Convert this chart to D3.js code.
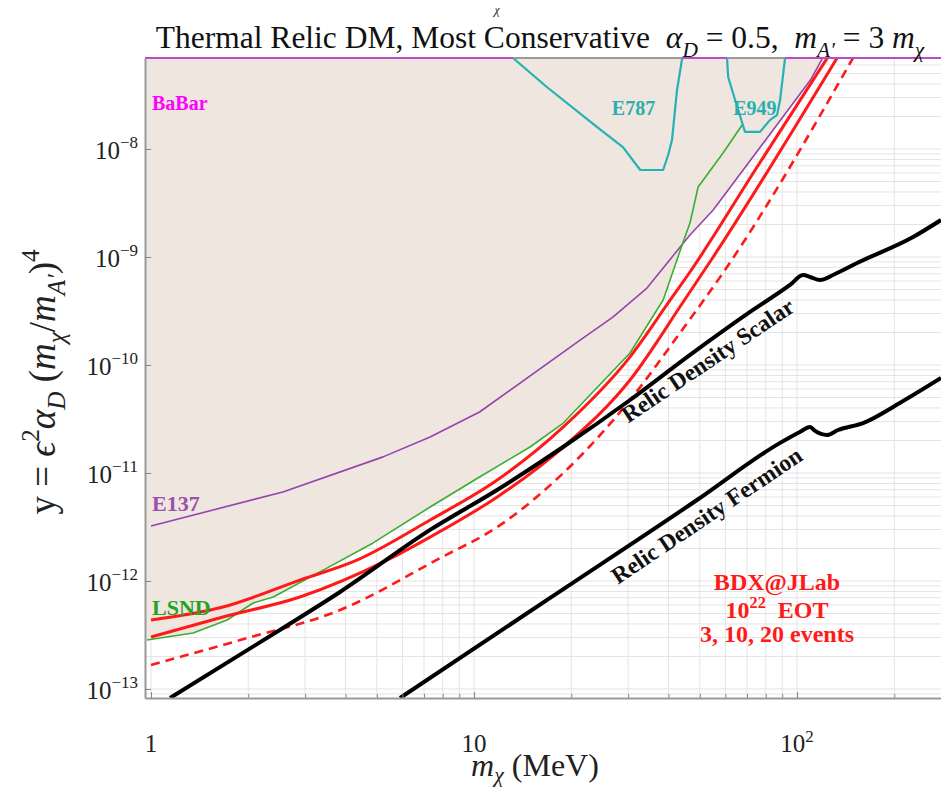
<!DOCTYPE html>
<html>
<head>
<meta charset="utf-8">
<script src="https://cdn.jsdelivr.net/npm/d3@7"></script>
<style>
  body { margin: 0; background: #fff; }
  svg text { font-family: "Liberation Serif", "Times New Roman", serif; white-space: pre; }
</style>
</head>
<body>
<div id="chart"></div>
<script>
// axis ranges (MeV, y)
const massDomain = [0.958, 279];
const yDomain = [8.25e-14, 6.96e-8];
const xTickValues = [1, 10, 100];
const xTickExp = [0, 1, 2];
const yTickExp = [-8, -9, -10, -11, -12, -13];

// existing limits [m_chi (MeV), y]
const lsnd = [[0.972, 2.84e-13], [1.35, 3.30e-13], [1.72, 4.35e-13], [2.07, 6.25e-13], [2.39, 7.11e-13],
  [3.41, 1.26e-12], [4.87, 2.25e-12], [7.31, 4.84e-12], [10.4, 9.18e-12], [14.9, 1.74e-11],
  [18.9, 2.90e-11], [30.4, 1.29e-10], [38.5, 4.0e-10], [44.4, 1.38e-9], [46.6, 2.06e-9],
  [49.4, 4.45e-9], [59.0, 9.18e-9], [67.6, 1.67e-8]];
const e137 = [[1.0, 3.23e-12], [2.56, 6.67e-12], [5.23, 1.41e-11], [7.31, 2.15e-11], [10.4, 3.67e-11],
  [21.3, 1.70e-10], [26.9, 2.78e-10], [34.3, 5.16e-10], [46.6, 1.60e-9], [55.0, 2.72e-9],
  [110, 4.35e-8], [120, 6.96e-8]];
const e787 = [[13.2, 6.96e-8], [16.8, 3.75e-8], [24.0, 1.60e-8], [28.9, 1.04e-8], [32.7, 6.39e-9],
  [38.5, 6.39e-9], [39.9, 8.80e-9], [41.0, 1.21e-8], [42.5, 3.52e-8], [44.1, 6.96e-8]];
const e949 = [[60.7, 6.96e-8], [61.2, 4.64e-8], [64.3, 2.84e-8], [69.0, 1.44e-8], [76.8, 1.44e-8],
  [82.5, 1.86e-8], [86.7, 2.06e-8], [88.6, 2.84e-8], [91.8, 6.96e-8]];
const babarRanges = [[0.958, 13.2], [44.1, 60.7], [91.8, 279]];

// BDX@JLab reach, 10^22 EOT
const bdxUpper = [[1.0, 4.35e-13], [1.67, 5.74e-13], [2.89, 1.02e-12], [4.34, 1.56e-12], [7.31, 3.67e-12],
  [11.8, 8.61e-12], [18.9, 2.67e-11], [30.4, 1.19e-10], [40.5, 4.0e-10], [46.6, 7.26e-10],
  [75.2, 6.81e-9], [124, 6.96e-8]];
const bdxMiddle = [[1.0, 3.03e-13], [1.67, 4.64e-13], [2.89, 7.11e-13], [5.38, 1.56e-12], [7.31, 2.55e-12],
  [11.8, 6.0e-12], [18.9, 1.74e-11], [30.4, 7.26e-11], [44.4, 3.83e-10], [55.0, 1.0e-9],
  [133, 6.96e-8]];
const bdxLower = [[1.0, 1.67e-13], [1.89, 2.84e-13], [3.85, 5.39e-13], [7.85, 1.63e-12], [11.8, 3.16e-12],
  [18.9, 1.0e-11], [30.4, 4.74e-11], [43.4, 1.98e-10], [60.7, 8.08e-10], [149, 6.96e-8]];

// relic density targets
const relicScalar = [[1.145, 8.25e-14], [2.563, 3.67e-13], [3.847, 7.91e-13], [7.307, 2.97e-12],
  [11.78, 6.96e-12], [18.86, 1.74e-11], [30.41, 4.74e-11], [46.64, 1.24e-10], [71.53, 3.10e-10],
  [95.1, 5.51e-10], [104.4, 6.81e-10], [109.7, 6.53e-10], [117.8, 6.12e-10], [131.1, 6.96e-10],
  [153.4, 8.80e-10], [228.6, 1.53e-9], [279, 2.20e-9]];
const relicFermion = [[5.90, 8.25e-14], [17.2, 6.97e-13], [49.0, 5.62e-12], [88.6, 1.90e-11],
  [102, 2.40e-11], [109.7, 2.67e-11], [113.7, 2.45e-11], [123.8, 2.25e-11], [133.9, 2.50e-11],
  [160.1, 2.90e-11], [208, 4.45e-11], [279, 7.58e-11]];

const bdxText = ['BDX@JLab', '10|22|  EOT', '3, 10, 20 events'];

const width = 941;
const height = 791;
const plot = { left: 145, right: 941, top: 58, bottom: 698 };

let svg = d3.select('#chart').append('svg')
  .attr('width', width)
  .attr('height', height)
  .attr('font-family', '"Liberation Serif", "Times New Roman", serif');

let x = d3.scaleLog().domain(massDomain).range([plot.left, plot.right]);
let y = d3.scaleLog().domain(yDomain).range([plot.bottom, plot.top]);

svg.append('defs').append('clipPath').attr('id', 'plotclip')
  .append('rect')
  .attr('x', plot.left).attr('y', plot.top)
  .attr('width', plot.right - plot.left).attr('height', plot.bottom - plot.top);

// rich text: parts are [text, kind] with kind n | i | sub | subi | sup
function rich(textSel, parts, size, subShift) {
  let shift = 0;
  let down = subShift === undefined ? 0.28 : subShift;
  parts.forEach(([t, k]) => {
    let target = k.startsWith('sub') ? size * down : (k === 'sup' ? -size * 0.42 : 0);
    let small = k.startsWith('sub') || k === 'sup';
    textSel.append('tspan')
      .attr('dy', target - shift)
      .attr('font-size', small ? size * 0.68 : size)
      .attr('font-style', (k === 'i' || k === 'subi') ? 'italic' : 'normal')
      .text(t);
    shift = target;
  });
}

// grid
let gridX = [];
let gridY = [];
for (let n = 0; n <= 2; n++) for (let k = 1; k <= 9; k++) {
  let v = k * Math.pow(10, n);
  if (v >= massDomain[0] && v <= massDomain[1]) gridX.push(v);
}
for (let n = -14; n <= -8; n++) for (let k = 1; k <= 9; k++) {
  let v = k * Math.pow(10, n);
  if (v >= yDomain[0] && v <= yDomain[1]) gridY.push(v);
}

let gridG = svg.append('g').attr('clip-path', 'url(#plotclip)');
gridG.selectAll('line.gx').data(gridX).enter().append('line')
  .attr('x1', d => x(d)).attr('x2', d => x(d))
  .attr('y1', plot.top).attr('y2', plot.bottom)
  .style('stroke', '#e4e4e4').style('stroke-width', 1);
gridG.selectAll('line.gy').data(gridY).enter().append('line')
  .attr('y1', d => y(d)).attr('y2', d => y(d))
  .attr('x1', plot.left).attr('x2', plot.right)
  .style('stroke', '#e4e4e4').style('stroke-width', 1);

// excluded region: above the lower envelope of LSND and E137
function logInterp(series, m) {
  if (m < series[0][0]) return series[0][1];
  if (m > series[series.length - 1][0]) return null;
  for (let i = 1; i < series.length; i++) {
    if (m <= series[i][0]) {
      let [m0, y0] = series[i - 1], [m1, y1] = series[i];
      let t = (Math.log(m) - Math.log(m0)) / (Math.log(m1) - Math.log(m0));
      return Math.exp(Math.log(y0) + t * (Math.log(y1) - Math.log(y0)));
    }
  }
  return null;
}
let envMasses = d3.range(0, 601).map(i => massDomain[0] * Math.pow(e137[e137.length - 1][0] / massDomain[0], i / 600))
  .concat(lsnd.map(d => d[0]), e137.map(d => d[0]))
  .sort((a, b) => a - b);
let envelope = envMasses.map(m => {
  let vals = [logInterp(lsnd, m), logInterp(e137, m)].filter(v => v !== null);
  return [m, Math.min(yDomain[1], ...vals)];
});

let layers = svg.append('g').attr('clip-path', 'url(#plotclip)');
layers.append('path')
  .datum(envelope)
  .attr('d', d3.area().x(d => x(d[0])).y0(y(yDomain[1])).y1(d => y(d[1])))
  .style('fill', '#eee6df')
  .style('stroke', 'none');

let lineLin = d3.line().x(d => x(d[0])).y(d => y(d[1]));
let lineSmooth = d3.line().x(d => x(d[0])).y(d => y(d[1])).curve(d3.curveMonotoneX);

[
  { data: e137, stroke: '#9544ad', width: 1.6, gen: lineLin },
  { data: lsnd, stroke: '#3aad32', width: 1.6, gen: lineLin },
  { data: e787, stroke: '#25b2b4', width: 2.2, gen: lineLin },
  { data: e949, stroke: '#25b2b4', width: 2.2, gen: lineLin },
  { data: bdxUpper, stroke: '#ff1a1a', width: 3, gen: lineSmooth },
  { data: bdxMiddle, stroke: '#ff1a1a', width: 3, gen: lineSmooth },
  { data: bdxLower, stroke: '#ff1a1a', width: 2.6, gen: lineSmooth, dash: '9,6' },
  { data: relicScalar, stroke: '#000', width: 4, gen: lineSmooth },
  { data: relicFermion, stroke: '#000', width: 4, gen: lineSmooth }
].forEach(s => {
  layers.append('path')
    .datum(s.data)
    .attr('d', s.gen)
    .style('fill', 'none')
    .style('stroke', s.stroke)
    .style('stroke-width', s.width)
    .style('stroke-dasharray', s.dash || null)
    .style('stroke-linejoin', 'round');
});

// frame top + BaBar
svg.append('line')
  .attr('x1', plot.left).attr('x2', plot.right)
  .attr('y1', plot.top).attr('y2', plot.top)
  .style('stroke', '#9a9a9a').style('stroke-width', 2);
svg.selectAll('line.babar').data(babarRanges).enter().append('line')
  .attr('x1', d => x(d[0])).attr('x2', d => x(d[1]))
  .attr('y1', plot.top).attr('y2', plot.top)
  .style('stroke', '#b84cc6').style('stroke-width', 2);

// axes
let minorX = gridX.filter(v => xTickValues.indexOf(v) < 0);
svg.append('g')
  .attr('transform', `translate(0,${plot.bottom})`)
  .call(d3.axisBottom(x).tickValues(minorX).tickSize(-4).tickFormat(''))
  .call(g => g.select('.domain').remove())
  .call(g => g.selectAll('line').style('stroke', '#888'));
svg.append('g')
  .attr('transform', `translate(0,${plot.bottom})`)
  .call(d3.axisBottom(x).tickValues(xTickValues).tickSize(-6).tickSizeOuter(0).tickFormat(''))
  .call(g => g.select('.domain').style('stroke', '#999').style('stroke-width', 2))
  .call(g => g.selectAll('line').style('stroke', '#888'));
svg.append('g')
  .attr('transform', `translate(${plot.left},0)`)
  .call(d3.axisLeft(y).tickValues(yTickExp.map(e => Math.pow(10, e))).tickSize(-6).tickSizeOuter(0).tickFormat(''))
  .call(g => g.select('.domain').style('stroke', '#999').style('stroke-width', 2))
  .call(g => g.selectAll('line').style('stroke', '#888'));

// tick labels
xTickValues.forEach((v, i) => {
  let t = svg.append('text')
    .attr('x', x(v))
    .attr('y', 752)
    .attr('text-anchor', 'middle')
    .style('fill', '#222');
  if (xTickExp[i] === 0) rich(t, [['1', 'n']], 25);
  else if (xTickExp[i] === 1) rich(t, [['10', 'n']], 25);
  else rich(t, [['10', 'n'], [String(xTickExp[i]), 'sup']], 25);
});
yTickExp.forEach(e => {
  let t = svg.append('text')
    .attr('x', 138)
    .attr('y', y(Math.pow(10, e)) + 10)
    .attr('text-anchor', 'end')
    .style('fill', '#222');
  rich(t, [['10', 'n'], ['\u2212' + Math.abs(e), 'sup']], 25);
});

// title and axis labels
let title = svg.append('text')
  .attr('x', 540).attr('y', 48)
  .attr('text-anchor', 'middle')
  .style('fill', '#111');
rich(title, [['Thermal Relic DM, Most Conservative  ', 'n'], ['\u03b1', 'i'], ['D', 'subi'],
  [' = 0.5,  ', 'n'], ['m', 'i'], ['A\u2032', 'subi'], [' = 3 ', 'n'], ['m', 'i'], ['\u03c7', 'subi']], 31.5);

svg.append('text').attr('x', 497).attr('y', 14).attr('text-anchor', 'middle')
  .attr('font-size', 14).attr('font-style', 'italic').style('fill', '#333')
  .text('\u03c7');
svg.append('rect').attr('x', 480).attr('y', 0).attr('width', 40).attr('height', 8).style('fill', '#fff');

let xLabel = svg.append('text')
  .attr('x', 535).attr('y', 776)
  .attr('text-anchor', 'middle')
  .style('fill', '#222');
rich(xLabel, [['m', 'i'], ['\u03c7', 'subi'], [' (MeV)', 'n']], 32, 0.2);

let yLabel = svg.append('text')
  .attr('transform', 'translate(55,382) rotate(-90)')
  .attr('text-anchor', 'middle')
  .style('fill', '#222');
rich(yLabel, [['y = ', 'n'], ['\u03f5', 'i'], ['2', 'sup'], ['\u03b1', 'i'], ['D', 'subi'], [' (', 'n'],
  ['m', 'i'], ['\u03c7', 'subi'], ['/', 'n'], ['m', 'i'], ['A\u2032', 'subi'], [')', 'n'], ['4', 'sup']], 37);

// curve labels
[
  { text: 'BaBar', m: 1.007, v: 2.30e-8, fill: '#ff00ff', size: 20 },
  { text: 'E787', m: 26.7, v: 2.07e-8, fill: '#2aafb0', size: 20 },
  { text: 'E949', m: 63.4, v: 2.07e-8, fill: '#2aafb0', size: 20 },
  { text: 'E137', m: 1.007, v: 4.45e-12, fill: '#9b4fae', size: 22 },
  { text: 'LSND', m: 1.007, v: 4.84e-13, fill: '#24a324', size: 22 }
].forEach(l => {
  svg.append('text')
    .attr('x', x(l.m)).attr('y', y(l.v))
    .attr('font-size', l.size)
    .attr('font-weight', 'bold')
    .style('fill', l.fill)
    .text(l.text);
});

[
  { text: 'Relic Density Scalar', m: 54.6, v: 9.58e-11 },
  { text: 'Relic Density Fermion', m: 54.2, v: 3.52e-12 }
].forEach(l => {
  svg.append('text')
    .attr('transform', `translate(${x(l.m)},${y(l.v)}) rotate(-34)`)
    .attr('text-anchor', 'middle')
    .attr('font-size', 23.5)
    .attr('font-weight', 'bold')
    .style('fill', '#111')
    .text(l.text);
});

let bdxG = svg.append('g')
  .attr('transform', `translate(${x(86.7)},${y(8.26e-13)})`);
bdxText.forEach((s, i) => {
  let t = bdxG.append('text')
    .attr('y', [0, 28, 52][i])
    .attr('text-anchor', 'middle')
    .attr('font-weight', 'bold')
    .style('fill', '#ff1a1a');
  let bits = s.split('|');
  if (bits.length === 3) rich(t, [[bits[0], 'n'], [bits[1], 'sup'], [bits[2], 'n']], 24);
  else rich(t, [[s, 'n']], 24);
});
</script>
</body>
</html>
